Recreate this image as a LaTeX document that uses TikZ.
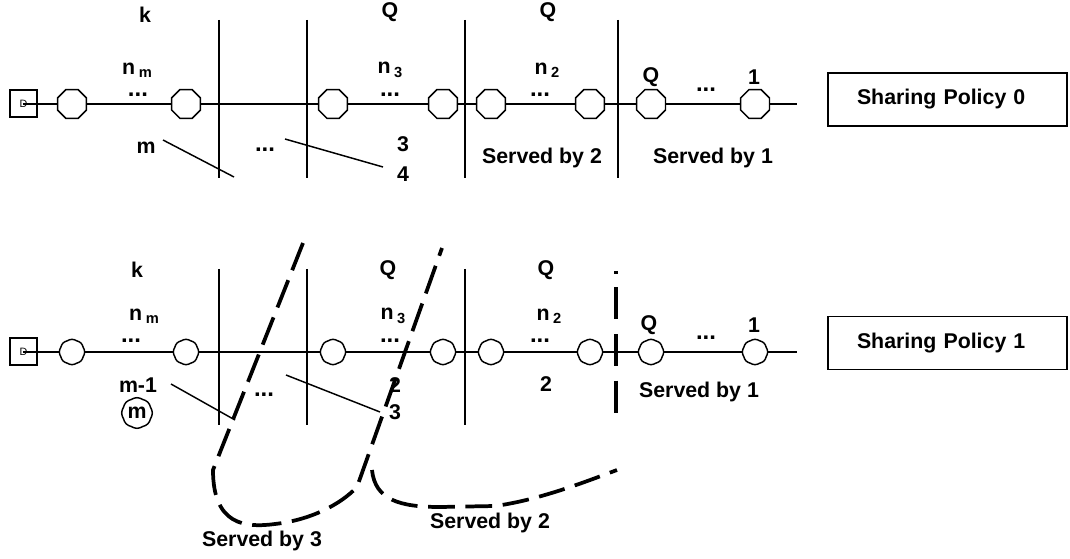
\documentclass[tikz,border=0pt]{standalone}
\usepackage{fontspec}
\setmainfont{Liberation Sans}
\usetikzlibrary{shapes.geometric,shapes.symbols}

% station label n with a lowered index
\newcommand{\nsub}[1]{n\,\raisebox{-0.3ex}{\fontsize{11}{11}\selectfont #1}}

\tikzset{
  lbl/.style={font=\bfseries\fontsize{16}{18}\selectfont, inner sep=0pt},
  dots/.style={font=\bfseries\fontsize{18}{18}\selectfont, inner sep=0pt},
  octa/.style={draw, fill=white, line width=1.1pt, regular polygon, regular polygon sides=8,
    minimum size=23.5pt, inner sep=0pt},
  puff/.style={draw, fill=white, line width=1.1pt, cloud, cloud puffs=8, cloud puff arc=70,
    aspect=1, minimum width=19pt, minimum height=19pt, inner sep=0pt},
  src/.style={draw, line width=1.1pt, minimum size=20pt, inner sep=0pt,
    font=\fontsize{8}{8}\selectfont},
  policy/.style={draw, line width=1.3pt, lbl, align=left, inner xsep=21.75pt,
    text width=135.75pt, minimum height=39.75pt},
  wire/.style={line width=1.1pt},
  cut/.style={line width=2.8pt, dash pattern=on 22pt off 8pt},
}

\begin{document}
\begin{tikzpicture}[x=0.75pt, y=-0.75pt]
  \useasboundingbox (0,0) rectangle (1070,559);

  % ---------- sharing policy 0 ----------
  \coordinate (s0) at (23,104);
  \coordinate (e0) at (797,104);
  \draw[wire] (s0) -- (e0);
  \node[src] (d0) at (23.5,103.5) {D};
  \foreach \x/\n in {72/a,186/b,333/c,443/d,491/e,590/f,651/g,755/h}
    \node[octa] (o0\n) at (\x,104) {};
  \foreach \x/\n in {219/a,307/b,465/c,618/d} {
    \coordinate (v0\n t) at (\x,20);
    \coordinate (v0\n b) at (\x,178);
    \draw[wire] (v0\n t) -- (v0\n b);
  }

  \node[lbl] (k0) at (145,15) {k};
  \node[lbl] (q0a) at (390,12) {Q};
  \node[lbl] (q0b) at (548,12) {Q};
  \node[lbl] (n0m) at (137,70) {\nsub{m}};
  \node[dots] (dt0a) at (138,95) {...};
  \node[lbl] (n03) at (390,70) {\nsub{3}};
  \node[dots] (dt0b) at (390,95) {...};
  \node[lbl] (n02) at (547,70) {\nsub{2}};
  \node[dots] (dt0c) at (540,95) {...};
  \node[lbl] (q0c) at (651,77) {Q};
  \node[dots] (dt0d) at (706,90) {...};
  \node[lbl] (one0) at (754,77) {1};

  \node[lbl] (m0) at (146,148) {m};
  \coordinate (l0a) at (163,140);
  \coordinate (l0b) at (234,177);
  \draw[wire] (l0a) -- (l0b);
  \node[dots] (dt0e) at (265,150) {...};
  \coordinate (l0c) at (285,139);
  \coordinate (l0d) at (383,167);
  \draw[wire] (l0c) -- (l0d);
  \node[lbl] (t0) at (403,144) {3};
  \node[lbl] (f0) at (403,174) {4};
  \node[lbl] (sv02) at (542,158) {Served by 2};
  \node[lbl] (sv01) at (713,158) {Served by 1};

  \node[policy] (pol0) at (947.5,99.5) {Sharing Policy 0};

  % ---------- sharing policy 1 ----------
  \coordinate (s1) at (23,352);
  \coordinate (e1) at (797,352);
  \draw[wire] (s1) -- (e1);
  \node[src] (d1) at (23.5,351.5) {D};
  \foreach \x/\n in {72/a,186/b,333/c,443/d,491/e,590/f,651/g,755/h}
    \node[puff] (o1\n) at (\x,352) {};
  \foreach \x/\n in {219/a,307/b,465/c} {
    \coordinate (v1\n t) at (\x,269);
    \coordinate (v1\n b) at (\x,425);
    \draw[wire] (v1\n t) -- (v1\n b);
  }

  \node[lbl] (k1) at (137,270) {k};
  \node[lbl] (q1a) at (388,270) {Q};
  \node[lbl] (q1b) at (546,270) {Q};
  \node[lbl] (n1m) at (144,316) {\nsub{m}};
  \node[dots] (dt1a) at (131,341) {...};
  \node[lbl] (n13) at (393,316) {\nsub{3}};
  \node[dots] (dt1b) at (390,341) {...};
  \node[lbl] (n12) at (549,316) {\nsub{2}};
  \node[dots] (dt1c) at (540,341) {...};
  \node[lbl] (q1c) at (649,325) {Q};
  \node[dots] (dt1d) at (706,338) {...};
  \node[lbl] (one1) at (754,325) {1};

  \node[lbl] (m1) at (138,385) {m-1};
  \node[puff, minimum width=23pt, minimum height=23pt, lbl] (mc) at (137,413) {m};
  \coordinate (l1a) at (171,384);
  \coordinate (l1b) at (235,420);
  \draw[wire] (l1a) -- (l1b);
  \node[dots] (dt1e) at (264,395) {...};
  \coordinate (l1c) at (286,375);
  \coordinate (l1d) at (380,412);
  \draw[wire] (l1c) -- (l1d);
  \node[lbl] (two1a) at (395,385) {2};
  \node[lbl] (th1) at (395,412) {3};
  \node[lbl] (two1b) at (546,384) {2};
  \node[lbl] (sv11) at (699,392) {Served by 1};

  \node[policy] (pol1) at (947.5,343) {Sharing Policy 1};

  % boundaries of the shared regions
  \coordinate (c3a) at (303,243);
  \coordinate (c3b) at (213,470);
  \coordinate (c3c) at (357,487);
  \coordinate (c3d) at (442,248);
  \draw[cut] (c3a) -- (c3b) .. controls (213,525) and (245,528) .. (275,524)
    .. controls (310,520) and (340,505) .. (c3c) -- (c3d);
  \coordinate (c2a) at (372,470);
  \coordinate (c2b) at (617,470);
  \draw[cut, dash pattern=on 20pt off 8pt] (c2a) .. controls (375,500) and (400,507) .. (440,507)
    -- (495,506) .. controls (540,500) and (590,480) .. (c2b);
  \coordinate (c1a) at (616,271);
  \coordinate (c1b) at (616,413);
  \draw[cut, dash pattern=on 2.3pt off 10pt on 24pt off 11pt on 24pt off 11pt on 25pt off 5pt]
    (c1a) -- (c1b);

  \node[lbl] (sv13) at (262,541) {Served by 3};
  \node[lbl] (sv12) at (490,523) {Served by 2};
\end{tikzpicture}
\end{document}
